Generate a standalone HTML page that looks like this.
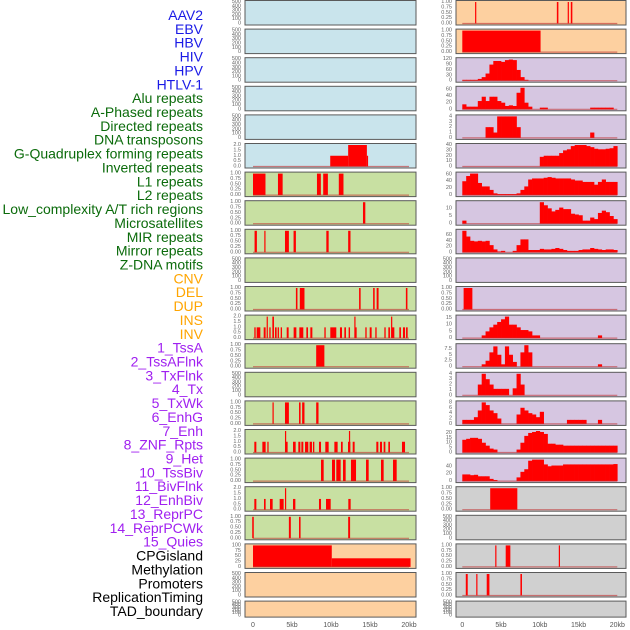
<!DOCTYPE html>
<html><head><meta charset="utf-8"><style>
html,body{margin:0;padding:0;background:#fff;}
svg{display:block;font-family:"Liberation Sans",sans-serif;}
</style></head><body>
<svg id="chart" width="630" height="630" viewBox="0 0 630 630" xmlns="http://www.w3.org/2000/svg"></svg>
<script>
// ---------- Data ----------
const trackLabels = ["AAV2","EBV","HBV","HIV","HPV","HTLV-1","Alu repeats","A-Phased repeats","Directed repeats","DNA transposons","G-Quadruplex forming repeats","Inverted repeats","L1 repeats","L2 repeats","Low_complexity A/T rich regions","Microsatellites","MIR repeats","Mirror repeats","Z-DNA motifs","CNV","DEL","DUP","INS","INV","1_TssA","2_TssAFlnk","3_TxFlnk","4_Tx","5_TxWk","6_EnhG","7_Enh","8_ZNF_Rpts","9_Het","10_TssBiv","11_BivFlnk","12_EnhBiv","13_ReprPC","14_ReprPCWk","15_Quies","CPGisland","Methylation","Promoters","ReplicationTiming","TAD_boundary"];
const labelGroups = [6,13,5,15,5];
const groupColors = ["#1a1ae6","#0b6b0b","#ffa500","#a020f0","#000000"];
const xTickValues = [0,5,10,15,20];
const xTickLabels = ["0","5kb","10kb","15kb","20kb"];

const ticksEmpty = [0,100,200,300,400,500];
const ticksUnit = [0,0.25,0.5,0.75,1];
const ticksTwo = [0,0.5,1,1.5,2];

// left column segments [startKb, endKb, value]
const left5 = [[9.9,12.2,1],[12.2,14.6,2],[14.6,14.7,1]];
const left6 = [[0,1.6,1],[3.2,3.8,1],[8.2,8.7,1],[9.0,9.6,1],[11.0,11.6,1]];
const left7 = [[14.1,14.4,1]];
const left8 = [[0.2,0.5,1],[1.45,1.6,1],[4.1,4.6,1],[5.2,5.5,1],[9.4,9.7,1],[12.2,12.5,1]];
const left10 = [[5.5,5.7,1],[6.0,6.6,1],[13.6,13.8,1],[15.4,15.6,1],[15.85,16.1,1],[19.6,19.8,1]];
const left11 = [[0.17,0.34,1],[0.47,0.94,1],[1.37,1.62,1],[1.75,1.9,2],[2.09,2.26,1],[2.48,2.69,2],[2.82,3.03,1],[3.16,3.33,1],[3.55,3.72,1],[4.32,4.57,1],[5.21,5.56,1],[5.94,6.45,1],[6.84,7.05,1],[7.35,7.61,1],[9.15,9.32,1],[9.91,10.68,1],[11.15,11.41,1],[11.71,11.92,1],[12.26,12.44,1],[12.99,13.1,2],[13.03,13.29,1],[14.4,14.57,1],[14.96,15.21,1],[15.68,15.85,1],[16.84,17.01,1],[17.35,17.56,1],[17.7,17.8,2],[17.82,18.12,1],[18.76,18.97,1],[19.23,19.49,1],[19.62,19.83,1]];
const left12 = [[8.1,9.15,1]];
const left14 = [[2.5,2.65,1],[4.1,4.6,1],[5.9,6.1,1],[6.3,6.6,1],[8.1,8.4,1]];
const left15 = [[0.17,0.43,1],[1.2,1.62,1],[1.84,2.0,1],[4.1,4.2,2],[4.19,4.44,1],[5.13,5.47,1],[5.81,6.07,1],[6.2,6.45,1],[6.67,7.09,1],[7.26,7.56,1],[7.69,7.86,1],[8.46,8.72,1],[9.27,9.7,1],[10.43,10.85,1],[11.28,11.5,1],[12.18,12.48,1],[12.3,12.4,2],[12.78,13.03,1],[15.81,16.07,1],[16.28,16.54,1],[16.75,16.97,1],[17.35,17.56,1],[19.1,19.49,1]];
const left16 = [[8.72,9.06,1],[10.13,10.51,1],[10.68,11.24,1],[11.54,11.88,1],[12.56,13.21,1],[14.49,14.83,1],[16.41,16.75,1],[17.95,18.42,1]];
const left17 = [[0.17,0.43,1],[1.41,1.62,1],[2.18,2.52,1],[3.42,3.93,1],[4.1,4.2,2],[5.13,5.43,1],[8.46,8.72,1],[9.36,9.96,1],[12.22,12.52,1]];
const left18 = [[-0.1,0.1,1],[4.6,4.85,1],[5.9,6.1,1],[12.2,12.45,1]];
const left19 = [[0,10.1,100],[10.1,20.2,40]];

// right column segments
const right0 = [[1.65,1.8,1],[12.2,12.4,1],[13.6,13.75,1],[14.0,14.2,1]];
const right1 = [[0,10.1,1]];
const right10 = [[0.17,1.3,1]];
const right17 = [[3.6,7.1,1]];
const right19 = [[4.25,4.4,1],[5.6,6.2,1],[12.45,12.6,1]];
const right20 = [[0.45,0.7,1],[1.8,1.95,1],[3.15,3.5,1],[7.5,7.7,1]];

// right column profiles (0.5kb bins, 0-20kb)
const right2 = [5,5,5,5,10,20,40,90,110,110,105,115,118,115,60,20,5,0,0,0,0,0,0,0,0,0,0,0,0,0,0,0,0,0,0,0,0,0,0,0];
const right3 = [15,8,8,8,25,38,25,38,38,25,20,10,12,10,50,65,20,8,0,0,5,5,0,0,0,0,0,0,0,0,0,0,0,5,5,5,5,5,5,0];
const right4 = [0,0,0,0,0,0,2,2,1,4,4,4,4,4,2,0,0,0,0,0,0,0,0,0,0,0,0,0,0,0,0,0,0,1,0,0,0,0,0,0];
const right5 = [0,0,0,0,0,0,0,0,0,0,0,0,0,0,0,0,0,0,0,0,18,20,20,20,20,25,30,32,38,40,40,40,38,36,33,32,32,33,34,38];
const right6 = [40,55,62,62,35,25,25,15,5,3,3,3,3,3,5,15,25,45,48,48,48,50,52,50,48,48,48,48,45,42,42,38,38,38,30,38,45,38,38,38];
const right7 = [2,0,0,0,0,0,0,0,0,0,0,0,0,0,0,0,0,0,0,0,14,12,10,8,9,10.5,9.5,9.5,6.5,6,5.5,2,2,4,3,7,8.5,7.5,5,3];
const right8 = [75,55,40,38,40,38,40,25,10,3,5,0,0,5,25,45,45,8,8,8,12,10,10,12,15,12,8,5,5,5,8,10,10,15,12,10,8,10,10,8];
const right11 = [0,0,0,0,0,2,5,8,10,12,14,16,10,10,8,6,6,5,2,2,0,0,0,0,0,0,0,0,0,0,0,0,0,0,0,2,0,0,0,0];
const right12 = [0,0,0,0,0,1,2.5,6,8.5,5,1,8.5,5,2,0,6,9,6,0,0,0,0,0,0,0,0,0,0,0,0,0,0,0,0,0,1,0,0,0,0];
const right13 = [0,0,0,0,2,4,3,2,1.2,1.2,1.2,1.2,0,1.3,4,2,0,0,0,0,0,0,0,0,0,0,0,0,0,0,0,0,0,0,0,0,0,0,0,0];
const right14 = [1.5,1.5,1.5,2.5,5,8,7,5,4,2,0,0,0,0,3.5,6,5,4,3.5,2.5,4.5,0,0,0,0,0,0,1.5,1.5,1.5,1.5,1.5,0,0,0,1.5,0,0,0,0];
const right15 = [13,14,15,15,14,10,7,4,3,0,0,0,0,0,3,10,17,20,21,22,21,19,9,9,8,8,7,7,7,7,7,7,7,7,7,7,7,7,7,7];
const right16 = [18,18,16,17,13,13,13,6,3,0,0,0,0,0,10,25,32,55,58,58,58,45,40,42,42,42,45,45,45,45,45,45,45,45,45,45,45,45,45,46];

const binSize = 0.5;

// panel specs: bg, ticks, data, kind
const leftBg = ["#c9e4ec","#c9e4ec","#c9e4ec","#c9e4ec","#c9e4ec","#c9e4ec","#c8e0a2","#c8e0a2","#c8e0a2","#c8e0a2","#c8e0a2","#c8e0a2","#c8e0a2","#c8e0a2","#c8e0a2","#c8e0a2","#c8e0a2","#c8e0a2","#c8e0a2","#fdd0a0","#fdd0a0","#fdd0a0"];
const rightBg = ["#fdd0a0","#fdd0a0","#d6c6e1","#d6c6e1","#d6c6e1","#d6c6e1","#d6c6e1","#d6c6e1","#d6c6e1","#d6c6e1","#d6c6e1","#d6c6e1","#d6c6e1","#d6c6e1","#d6c6e1","#d6c6e1","#d6c6e1","#d0d0d0","#d0d0d0","#d0d0d0","#d0d0d0","#d0d0d0"];
const leftPanels = [
 {t:ticksEmpty},{t:ticksEmpty},{t:ticksEmpty},{t:ticksEmpty},{t:ticksEmpty},
 {t:ticksTwo,seg:left5},{t:ticksUnit,seg:left6},{t:ticksUnit,seg:left7},{t:ticksUnit,seg:left8},
 {t:ticksEmpty},{t:ticksUnit,seg:left10},{t:ticksTwo,seg:left11},{t:ticksUnit,seg:left12},
 {t:ticksEmpty},{t:ticksUnit,seg:left14},{t:ticksTwo,seg:left15},{t:ticksUnit,seg:left16},
 {t:ticksTwo,seg:left17},{t:ticksUnit,seg:left18},{t:[0,25,50,75,100],seg:left19},
 {t:ticksEmpty},{t:ticksEmpty}];
const rightPanels = [
 {t:ticksUnit,seg:right0},{t:ticksUnit,seg:right1},{t:[0,30,60,90,120],bins:right2},
 {t:[0,20,40,60],bins:right3},{t:[0,1,2,3,4],bins:right4},{t:[0,10,20,30,40],bins:right5},
 {t:[0,20,40,60],bins:right6},{t:[0,5,10],bins:right7},{t:[0,20,40,60],bins:right8},
 {t:ticksEmpty},{t:ticksUnit,seg:right10},{t:[0,5,10,15],bins:right11},
 {t:[0,2.5,5,7.5],bins:right12},{t:[0,1,2,3,4],bins:right13},{t:[0,2,4,6,8],bins:right14},
 {t:[0,5,10,15,20],bins:right15},{t:[0,20,40],bins:right16},{t:ticksUnit,seg:right17},
 {t:ticksEmpty},{t:ticksUnit,seg:right19},{t:ticksUnit,seg:right20},{t:ticksEmpty}];

// ---------- Rendering ----------
const NS="http://www.w3.org/2000/svg";
const svg=document.getElementById('chart');
function mk(tag,attrs,parent){const e=document.createElementNS(NS,tag);for(const k in attrs)e.setAttribute(k,attrs[k]);(parent||svg).appendChild(e);return e;}

// labels
let li=0;
labelGroups.forEach((n,g)=>{for(let k=0;k<n;k++){
  const t=mk('text',{x:203,y:15+li*13.86,'text-anchor':'end','dominant-baseline':'central','font-size':14,fill:groupColors[g]});
  t.textContent=trackLabels[li];
  
  
  li++;}});

const cols=[{px:245,pw:171,x0:253,sc:7.8,tx:241,panels:leftPanels,bg:leftBg,name:'left'},
            {px:456,pw:170,x0:462.3,sc:7.75,tx:452,panels:rightPanels,bg:rightBg,name:'right'}];
cols.forEach(col=>{
  const xs=kb=>col.x0+kb*col.sc;
  col.panels.forEach((p,i)=>{
    const top=0.5+28.6*i, h=(i===21)?16:24.5, bot=top+h;
    const g=mk('g',{});
    
    
    mk('rect',{x:col.px,y:top,width:col.pw,height:h,fill:col.bg[i],stroke:'#5a5a5a','stroke-width':1},g);
    const tmax=p.t[p.t.length-1];
    let dmax=tmax;
    if(p.bins)dmax=Math.max(tmax,...p.bins);
    const y0=bot-1.5, y1=top+1.5;
    const ys=v=>y0-(v/dmax)*(y0-y1);
    p.t.forEach(v=>{
      const t=mk('text',{x:col.tx,y:ys(v),'text-anchor':'end','dominant-baseline':'central','font-size':5.5,fill:'#666'},g);
      t.textContent=(p.t===ticksUnit)?v.toFixed(2):(p.t===ticksTwo?v.toFixed(1):String(v));
      
      
    });
    if(p.seg){p.seg.forEach(s=>{
      const r=mk('rect',{x:xs(s[0]),y:ys(s[2]),width:Math.max(1.2,xs(s[1])-xs(s[0])),height:y0-ys(s[2]),fill:'#ff0000'},g);
      
      
    });}
    if(p.bins){p.bins.forEach((v,b)=>{ if(v<=0)return;
      const r=mk('rect',{x:xs(b*binSize),y:ys(v),width:xs((b+1)*binSize)-xs(b*binSize)+0.3,height:y0-ys(v),fill:'#ff0000'},g);
      
      
    });}
    if(p.seg||p.bins){
      const l=mk('line',{x1:xs(0),x2:xs(20),y1:y0,y2:y0,stroke:'#c03030','stroke-opacity':0.6,'stroke-width':1.2},g);
      
      
    }
  });
  xTickValues.forEach((v,k)=>{
    const t=mk('text',{x:xs(v),y:627,'text-anchor':'middle','font-size':7,fill:'#555'});
    t.textContent=xTickLabels[k];
    
    
  });
});
</script>
</body></html>
